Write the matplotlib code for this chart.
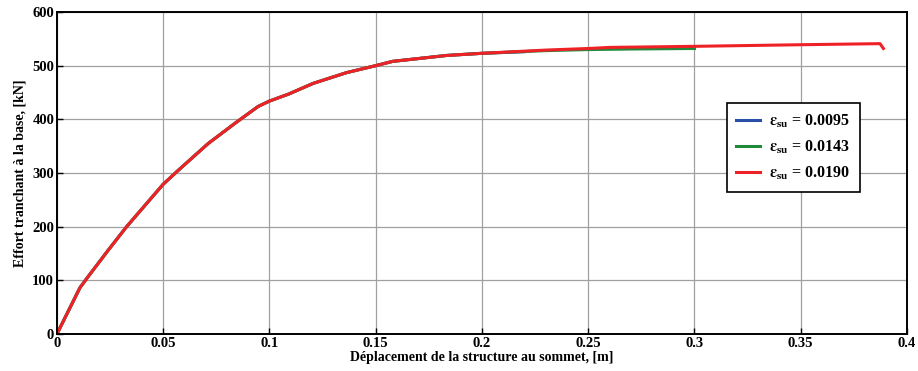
import matplotlib
matplotlib.use('Agg')
import matplotlib.pyplot as plt

plt.rcParams['font.family'] = ['Liberation Serif', 'DejaVu Serif']
plt.rcParams['font.weight'] = 'bold'
plt.rcParams['mathtext.fontset'] = 'stix'

# pushover curves (displacement m, base shear kN)
x_common = [0, 0.0108, 0.0147, 0.0241, 0.0328, 0.05, 0.0571, 0.0712, 0.0846, 0.0947,
            0.1, 0.109, 0.1206, 0.1363, 0.15, 0.158, 0.1834, 0.2]
v_common = [0, 86, 107, 156, 200, 279, 305, 355, 395, 424,
            434, 447, 467, 487, 500, 508, 519, 523]

x_0095 = x_common + [0.22]
v_0095 = v_common + [526]

x_0143 = x_common + [0.23, 0.25, 0.27, 0.30]
v_0143 = v_common + [528, 530, 531, 532]

x_0190 = x_common + [0.23, 0.25, 0.26, 0.30, 0.35, 0.3873, 0.3889]
v_0190 = v_common + [529, 532, 534, 536, 539, 541, 532]

labels = [r'$\mathbf{\epsilon_{su}}$ = 0.0095',
          r'$\mathbf{\epsilon_{su}}$ = 0.0143',
          r'$\mathbf{\epsilon_{su}}$ = 0.0190']

fig = plt.figure(figsize=(9.18, 3.71), dpi=100)
ax = fig.add_axes([0.062, 0.0997, 0.926, 0.868])

ax.plot(x_0095, v_0095, color='#2a4fa8', linewidth=2.2, label=labels[0])
ax.plot(x_0143, v_0143, color='#1f8a3a', linewidth=2.2, label=labels[1])
ax.plot(x_0190, v_0190, color='#ee2226', linewidth=2.2, label=labels[2])

ax.set_xlim(0, 0.4)
ax.set_ylim(0, 600)
ax.set_xticks([0, 0.05, 0.1, 0.15, 0.2, 0.25, 0.3, 0.35, 0.4])
ax.set_xticklabels(['0', '0.05', '0.1', '0.15', '0.2', '0.25', '0.3', '0.35', '0.4'])
ax.set_yticks([0, 100, 200, 300, 400, 500, 600])
ax.grid(True, color='#a0a0a0', linewidth=0.9)
ax.tick_params(direction='in', labelsize=10.5, length=4, width=1, pad=2)
for s in ax.spines.values():
    s.set_linewidth(1.4)

ax.set_xlabel('Déplacement de la structure au sommet, [m]', fontsize=10, fontweight='bold', labelpad=1)
ax.set_ylabel('Effort tranchant à la base, [kN]', fontsize=10, fontweight='bold', labelpad=4)

leg = ax.legend(loc='upper left', bbox_to_anchor=(0.788, 0.717), borderaxespad=0,
                fontsize=11.5, frameon=True, fancybox=False, edgecolor='black',
                framealpha=1, handlelength=1.5, handletextpad=0.55,
                borderpad=0.6, labelspacing=0.55)
leg.get_frame().set_linewidth(1.2)

fig.savefig('out.png', dpi=100)
